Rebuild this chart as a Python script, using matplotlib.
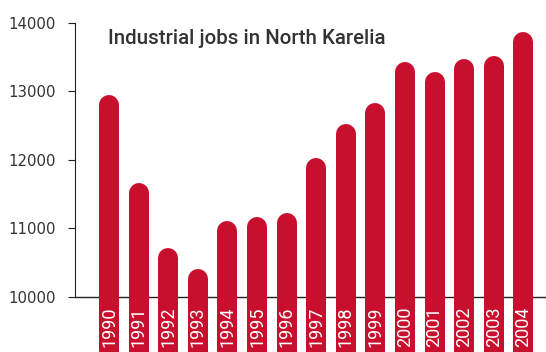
import matplotlib
matplotlib.use("Agg")
import matplotlib.pyplot as plt

years = ["1990", "1991", "1992", "1993", "1994", "1995", "1996", "1997",
         "1998", "1999", "2000", "2001", "2002", "2003", "2004"]
jobs = [12950, 11660, 10720, 10410, 11110, 11170, 11230, 12030,
        12520, 12830, 13430, 13280, 13470, 13520, 13870]
yticks = [10000, 11000, 12000, 13000, 14000]

red = "#c8102e"
grey = "#333333"

W, H = 546, 352
fig = plt.figure(figsize=(W / 100, H / 100), dpi=100)
ax = fig.add_axes([75 / W, 0, 1 - 75 / W, 1])

# pixel layout: 10000 at y=297, 14000 at y=23
ppu = (297 - 23) / 4000.0
ylo = 10000 - (H - 297) / ppu
yhi = 14000 + 23 / ppu
ax.set_ylim(ylo, yhi)
step = 29.6
ax.set_xlim(-(109 - 75) / step, (W - 109) / step)

bar_px = 20
r = bar_px / 2 / ppu  # cap radius in data units
for i, v in enumerate(jobs):
    ax.plot([i, i], [ylo - 500, v - r], color=red, lw=bar_px * 0.72,
            solid_capstyle="round", zorder=2)
    ax.text(i, (10000 + ylo) / 2 - 30, years[i], rotation=90, color="white",
            ha="center", va="center", fontsize=13, family="Roboto", zorder=3)

ax.axhline(10000, color="#222222", lw=1, zorder=1)

for s in ["top", "right", "bottom"]:
    ax.spines[s].set_visible(False)
ax.spines["left"].set_bounds(10000, 14000)
ax.spines["left"].set_color("#222222")
ax.set_yticks(yticks)
ax.set_yticklabels([str(t) for t in yticks])
ax.tick_params(axis="y", length=5, color="#222222", labelsize=10.7,
               labelcolor=grey, pad=9)
ax.set_xticks([])

ax.text(108 / W, 1 - 38 / H, "Industrial jobs in North Karelia",
        transform=fig.transFigure, ha="left", va="center", fontsize=14.8,
        family="Roboto", fontweight="medium", color=grey)

fig.savefig("out.png", dpi=100)
